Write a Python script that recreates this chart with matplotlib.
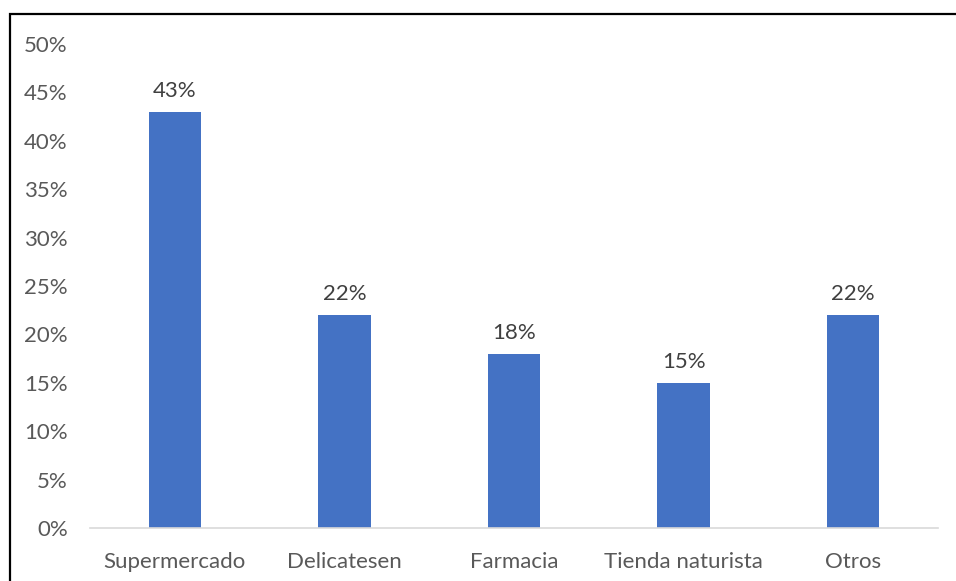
import matplotlib.pyplot as plt
from matplotlib.patches import Rectangle

categorias = ['Supermercado', 'Delicatesen', 'Farmacia', 'Tienda naturista', 'Otros']
valores = [0.43, 0.22, 0.18, 0.15, 0.22]
ticks_y = [0, 0.05, 0.10, 0.15, 0.20, 0.25, 0.30, 0.35, 0.40, 0.45, 0.50]

plt.rcParams['font.family'] = ['Lato', 'DejaVu Sans']
gris = '#595959'

fig = plt.figure(figsize=(9.56, 5.81), dpi=100)
ax = fig.add_axes([90 / 956, 1 - 528 / 581, 848 / 956, 484 / 581])

x = range(len(categorias))
ax.bar(x, valores, width=0.31, color='#4472C4')
for i, v in zip(x, valores):
    ax.annotate(f'{v * 100:.0f}%', (i, v), textcoords='offset points', xytext=(0, 8),
                ha='center', va='bottom', fontsize=16, color='#404040')

ax.set_xlim(-0.5, len(categorias) - 0.5)
ax.set_ylim(0, 0.5)
ax.set_yticks(ticks_y)
ax.set_yticklabels([f'{t * 100:.0f}%' for t in ticks_y])
ax.set_xticks(list(x))
ax.set_xticklabels(categorias)
ax.tick_params(axis='both', length=0, labelsize=16, labelcolor=gris)
ax.tick_params(axis='y', pad=16)
ax.tick_params(axis='x', pad=17)

for s in ['left', 'right', 'top']:
    ax.spines[s].set_visible(False)
ax.spines['bottom'].set_color('#D9D9D9')
ax.spines['bottom'].set_linewidth(1.2)

# marco negro (cortado a la derecha y abajo)
fig.patches.append(Rectangle((10 / 956, -0.1), 1.1, 1 - 14 / 581 + 0.1, transform=fig.transFigure,
                             fill=False, edgecolor='black', linewidth=1.6))

fig.savefig('out.png', dpi=100)
